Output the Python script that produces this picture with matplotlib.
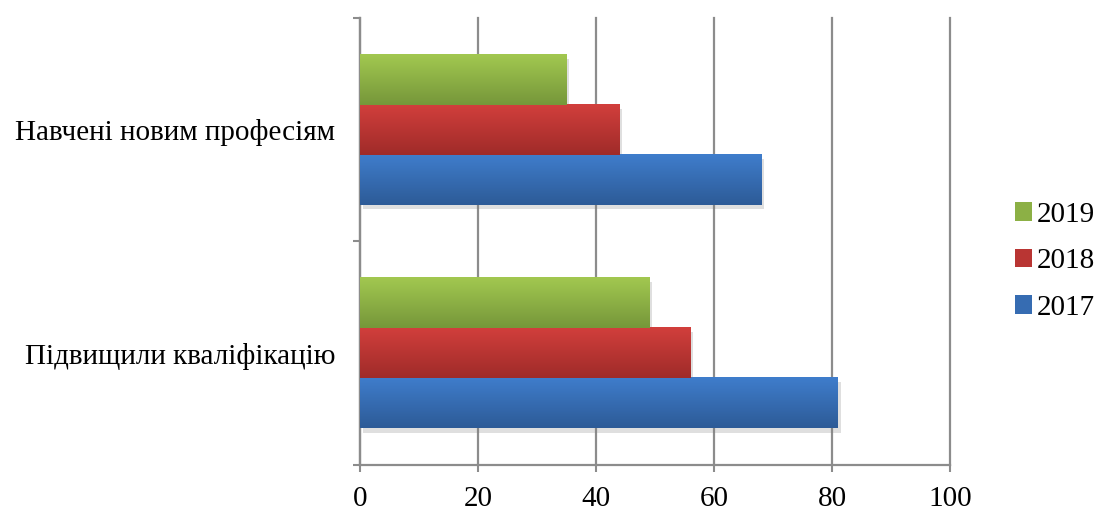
import numpy as np
import matplotlib.pyplot as plt
import matplotlib.patheffects as pe
from matplotlib.colors import to_rgb
from matplotlib.patches import Patch

plt.rcParams['font.family'] = ['Liberation Serif', 'DejaVu Serif']

# Дані
categories = ["Підвищили кваліфікацію", "Навчені новим професіям"]
years = ["2017", "2018", "2019"]
v2017 = [81, 68]
v2018 = [56, 44]
v2019 = [49, 35]
series = [v2017, v2018, v2019]

# Кольори градієнта (верх, низ) для кожного року
grad_colors = [("#3f7dcc", "#2d5b97"),
               ("#d23f3c", "#9f2b29"),
               ("#a2c850", "#76973a")]

fig = plt.figure(figsize=(10.97, 5.11), dpi=100)
ax = fig.add_axes([0.3282, 0.0900, 0.5378, 0.8748])

h = 0.224
offsets = [-h, 0, h]
y = np.arange(len(categories))

for vals, off, (c_top, c_bot), year in zip(series, offsets, grad_colors, years):
    c1, c2 = np.array(to_rgb(c_top)), np.array(to_rgb(c_bot))
    t = np.linspace(0, 1, 64)[:, None]
    grad = (c1 * (1 - t) + c2 * t)[:, None, :]
    mid = tuple(c1 * 0.5 + c2 * 0.5)
    for yi, v in zip(y, vals):
        ax.barh(yi + off, v, height=h, color=mid, zorder=2,
                path_effects=[pe.SimplePatchShadow(offset=(2, -3), alpha=0.25,
                                                   shadow_rgbFace='gray'),
                              pe.Normal()])
        ax.imshow(grad, extent=[0, v, yi + off - h / 2, yi + off + h / 2],
                  aspect='auto', origin='upper', zorder=3, interpolation='bilinear')

ax.set_xlim(0, 100)
ax.set_ylim(-0.5, 1.5)

# Сітка та осі
ax.set_xticks(np.arange(0, 101, 20))
ax.grid(axis='x', color='#8c8c8c', linewidth=1.6, zorder=0, clip_on=False)
ax.set_axisbelow(True)
for s in ['top', 'right']:
    ax.spines[s].set_visible(False)
for s in ['left', 'bottom']:
    ax.spines[s].set_color('#8c8c8c')
    ax.spines[s].set_linewidth(1.6)

ax.set_yticks([-0.5, 0.5, 1.5])
ax.set_yticklabels([])
ax.set_yticks(y, minor=True)
ax.set_yticklabels(categories, minor=True)
ax.tick_params(axis='y', which='major', length=5, width=1.5, color='#8c8c8c')
ax.tick_params(axis='y', which='minor', length=0, pad=18, labelsize=21)
ax.tick_params(axis='x', length=5, width=1.5, color='#8c8c8c', labelsize=21, pad=10)

handles = [Patch(facecolor=tuple(np.array(to_rgb(a)) * 0.5 + np.array(to_rgb(b)) * 0.5),
                 label=yr) for (a, b), yr in zip(grad_colors, years)]
fig.legend(handles[::-1], years[::-1], loc='center left',
           bbox_to_anchor=(0.925, 0.489), frameon=False, fontsize=21,
           handlelength=0.6, handleheight=0.6, handletextpad=0.15,
           labelspacing=0.7, borderaxespad=0, borderpad=0)

fig.savefig("out.png", dpi=100)
